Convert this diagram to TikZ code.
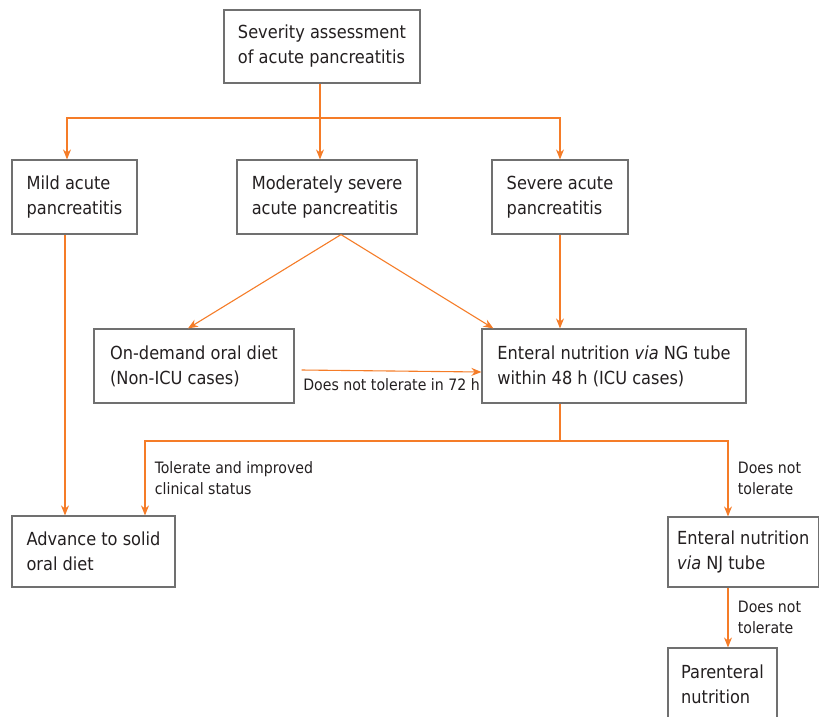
\documentclass[tikz,border=0pt]{standalone}
\usepackage{fontspec}
\setmainfont{DejaVu Sans Condensed}
\usetikzlibrary{arrows.meta}
\definecolor{arrorange}{RGB}{245,124,40}
\definecolor{boxgray}{RGB}{112,112,112}
\definecolor{txtdark}{RGB}{35,31,32}
\begin{document}
\begin{tikzpicture}[x=1pt,y=-1pt,
  box/.style = {shape=rectangle, draw=boxgray, line width=1.2pt,
    align=left, inner xsep=6pt, inner ysep=0pt, text=txtdark,
    font=\fontsize{18}{25}\selectfont},
  link/.style = {draw=arrorange, line width=1.1pt},
  arr/.style = {link, -{Stealth[length=10pt,width=8pt]}},
  lbl/.style = {align=left, text=txtdark,
    font=\fontsize{15.7}{21}\selectfont}]
  \useasboundingbox (0,0) rectangle (819,716);
  \clip (0,0) rectangle (819,716);

  \node[box, minimum width=196pt, minimum height=73pt] (sev) at (322,46.5) {Severity assessment\\of acute pancreatitis};
  \node[box, minimum width=125pt, minimum height=74pt] (mild) at (74.5,197) {Mild acute\\pancreatitis};
  \node[box, minimum width=180pt, minimum height=74pt] (modsev) at (327,197) {Moderately severe\\acute pancreatitis};
  \node[box, minimum width=136pt, minimum height=74pt] (severe) at (560,197) {Severe acute\\pancreatitis};
  \node[box, minimum width=200pt, minimum height=74pt] (oral) at (194,366) {On-demand oral diet\\(Non-ICU cases)};
  \node[box, minimum width=264pt, minimum height=74pt] (ngtube) at (614,366) {Enteral nutrition \textit{via} NG tube\\within 48 h (ICU cases)};
  \node[box, minimum width=163pt, minimum height=71pt] (solid) at (93.5,551.5) {Advance to solid\\oral diet};
  \node[box, minimum width=150.5pt, minimum height=70pt] (njtube) at (743.25,552) {Enteral nutrition\\\textit{via} NJ tube};
  \node[box, minimum width=109pt, minimum height=73pt] (parent) at (722.5,684.5) {Parenteral\\nutrition};

  \coordinate (split) at (320,118);
  \coordinate (fork) at (560,441);

  \draw[link] (sev.south -| split) -- (split);
  \draw[arr] (split) -| ([xshift=-7.5pt]mild.north);
  \draw[arr] (split) -- (split |- modsev.north);
  \draw[arr] (split) -| (severe.north);
  \draw[arr] ([xshift=14pt]modsev.south) -- ([xshift=-6pt]oral.north);
  \draw[arr] ([xshift=14pt]modsev.south) -- ([xshift=12pt]ngtube.north west);
  \draw[arr] (severe.south) -- (severe.south |- ngtube.north);
  \draw[arr] ([xshift=7pt,yshift=-4pt]oral.east) -- node[lbl, below=4pt] {Does not tolerate in 72 h} ([yshift=-6pt]ngtube.west);
  \draw[link] (ngtube.south -| fork) -- (fork);
  \draw[arr] (fork) -| node[lbl, pos=0.75, right=6pt] {Tolerate and improved\\clinical status} ([xshift=51.5pt]solid.north);
  \draw[arr] (fork) -| node[lbl, pos=0.75, right=6pt] {Does not\\tolerate} ([xshift=-15.25pt]njtube.north);
  \draw[arr] ([xshift=-9.5pt]mild.south) -- ([xshift=-9.5pt]mild.south |- solid.north);
  \draw[arr] ([xshift=-15.25pt]njtube.south) -- node[lbl, right=6pt] {Does not\\tolerate} ([xshift=-15.25pt]njtube.south |- parent.north);

\end{tikzpicture}
\end{document}
